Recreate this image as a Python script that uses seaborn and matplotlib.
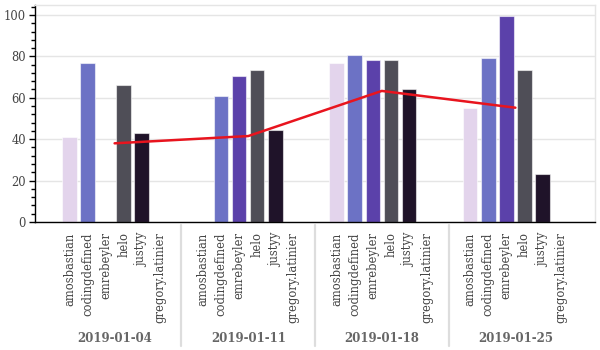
import matplotlib.pyplot as plt
import matplotlib.transforms as mtransforms
import pandas as pd
import seaborn as sns
from matplotlib.ticker import MultipleLocator

dates = ['2019-01-04', '2019-01-11', '2019-01-18', '2019-01-25']
names = ['amosbastian', 'codingdefined', 'emrebeyler', 'helo', 'justyy', 'gregory.latinier']
# one row per date, one column per name (None = no bar)
values = [
    [41, 77, None, 66, 43, None],
    [None, 61, 70.7, 73.4, 44.6, None],
    [77, 80.5, 78, 78.4, 64, None],
    [55, 79.2, 99.6, 73.6, 23, None],
]
line_values = [38, 41.5, 63.3, 55.2]
colors = ['#e3d4ec', '#6c72c5', '#5b41aa', '#4f4e57', '#1f1329', '#000000']

group_pad = 1.4
group_step = len(names) + group_pad

rows = []
for i, d in enumerate(dates):
    for j, n in enumerate(names):
        rows.append({'date': d, 'name': n, 'pos': i * group_step + j + 0.5, 'value': values[i][j]})
df = pd.DataFrame(rows)
df_line = pd.DataFrame({'date': dates,
                        'pos': [i * group_step + len(names) / 2 for i in range(len(dates))],
                        'value': line_values})

sns.set_theme(style='white', rc={'axes.unicode_minus': False})
plt.rcParams['font.family'] = ['DejaVu Serif']

fig = plt.figure(figsize=(6, 3.5), dpi=100)
ax = fig.add_axes([35 / 600, 1 - 222 / 350, 560 / 600, 217 / 350])

sns.barplot(
    df.dropna(),
    x='pos',
    y='value',
    hue='name',
    hue_order=names,
    palette=colors,
    saturation=1,
    native_scale=True,
    dodge=False,
    width=0.8,
    edgecolor='#ffffff90',
    linewidth=0.8,
    legend=False,
    ax=ax,
)
sns.lineplot(df_line, x='pos', y='value', color='#e8141e', linewidth=1.8, ax=ax)

total = (len(dates) - 1) * group_step + len(names)
pad = total * 0.1 / 2
ax.set_xlim(-pad, total + pad)
ax.set_ylim(0, 104.8)

ax.set_xticks(df['pos'])
ax.set_xticklabels(df['name'], rotation=90, fontsize=8.3, color='#444444')
ax.tick_params(axis='x', direction='out', length=4.5, width=1, color='black', pad=3)
ax.yaxis.set_major_locator(MultipleLocator(20))
ax.yaxis.set_minor_locator(MultipleLocator(4))
ax.tick_params(axis='y', which='major', direction='out', length=4.5, width=1, color='black',
               labelsize=8.3, labelcolor='#444444', pad=2, left=True)
ax.tick_params(axis='y', which='minor', direction='out', length=3, width=1, color='black', left=True)
ax.grid(axis='y', color='#e5e5e5', linewidth=1)
ax.set_axisbelow(True)
ax.set_xlabel('')
ax.set_ylabel('')

for side in ['left', 'bottom']:
    ax.spines[side].set_color('black')
    ax.spines[side].set_linewidth(1)
for side in ['top', 'right']:
    ax.spines[side].set_color('#e5e5e5')
    ax.spines[side].set_linewidth(1)

trans = mtransforms.blended_transform_factory(ax.transData, ax.transAxes)
for i, d in enumerate(dates):
    ax.text(i * group_step + len(names) / 2, -117 / 217, d, transform=trans,
            ha='center', va='center', fontsize=8.5, fontweight='bold', color='#666666')
    if i > 0:
        x = i * group_step - group_pad / 2
        ax.plot([x, x], [-3 / 217, -124 / 217], transform=trans, color='#dddddd',
                linewidth=1.6, clip_on=False)

fig.savefig('out.png', dpi=100)
